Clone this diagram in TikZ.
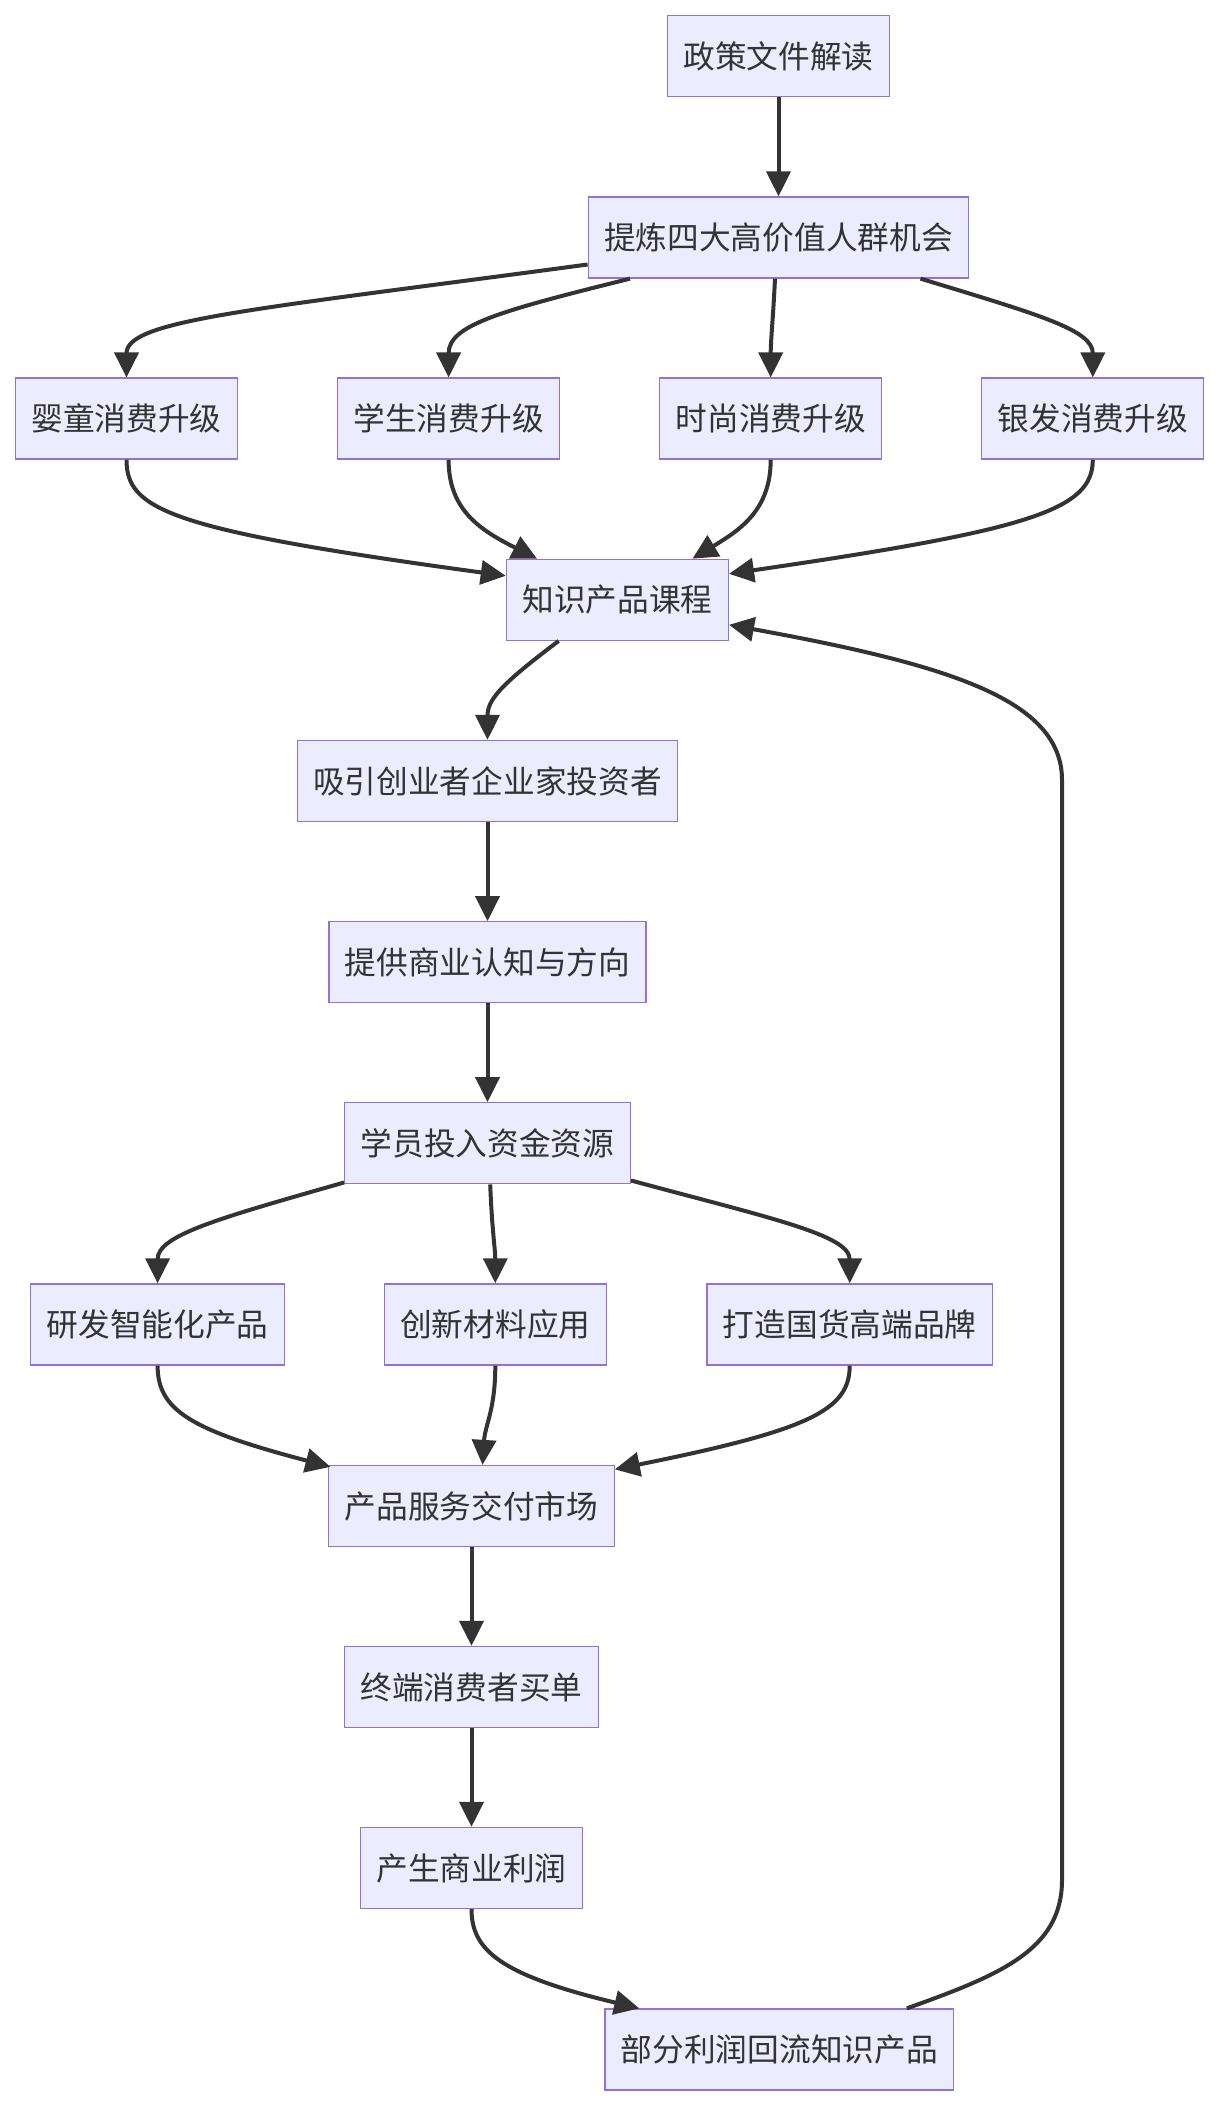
\documentclass[tikz,border=0pt]{standalone}
\usepackage{fontspec}
\newfontfamily\cjk{Noto Sans CJK SC}
\usetikzlibrary{arrows.meta}
\definecolor{nodefill}{HTML}{ECECFF}
\definecolor{nodeline}{HTML}{9370DB}
\definecolor{edgecol}{HTML}{333333}
\tikzset{
  box/.style={draw=nodeline, fill=nodefill, line width=1.3pt, rectangle,
    minimum height=81pt, inner xsep=15.9pt, inner ysep=0pt,
    text=edgecol, font=\cjk\fontsize{31.7pt}{38pt}\selectfont},
  edge/.style={draw=edgecol, line width=4pt,
    -{Triangle[length=25pt,width=24pt]}}
}
\begin{document}
\begin{tikzpicture}[x=1pt,y=-1pt]
\useasboundingbox (0,0) rectangle (1220,2108);
\node[box] (a) at (778.5,56.3) {政策文件解读};
\node[box] (b) at (778.5,237.5) {提炼四大高价值人群机会};
\node[box] (c1) at (126.5,418.6) {婴童消费升级};
\node[box] (c2) at (448.6,418.6) {学生消费升级};
\node[box] (c3) at (770.7,418.6) {时尚消费升级};
\node[box] (c4) at (1092.8,418.6) {银发消费升级};
\node[box] (d) at (617.4,599.8) {知识产品课程};
\node[box] (e) at (487.5,781) {吸引创业者企业家投资者};
\node[box] (f) at (487.5,962.3) {提供商业认知与方向};
\node[box] (g) at (487.5,1143.3) {学员投入资金资源};
\node[box] (h1) at (157.6,1324.4) {研发智能化产品};
\node[box] (h2) at (495.3,1324.4) {创新材料应用};
\node[box] (h3) at (849.7,1324.4) {打造国货高端品牌};
\node[box] (i) at (471.5,1506) {产品服务交付市场};
\node[box] (j) at (471.5,1687) {终端消费者买单};
\node[box] (k) at (471.5,1868) {产生商业利润};
\node[box] (l) at (779.3,2049.5) {部分利润回流知识产品};

\draw[edge] (a.south) -- (b.north);
\draw[edge] ([yshift=-27pt]b.west) .. controls (250,310) and (126.5,320) .. (c1.north);
\draw[edge] ([xshift=-148.5pt]b.south) .. controls (500,311) and (448.6,325) .. (c2.north);
\draw[edge] ([xshift=-3.5pt]b.south) .. controls (773,320) and (770.7,340) .. (c3.north);
\draw[edge] ([xshift=142pt]b.south) .. controls (1040,315) and (1092.8,330) .. (c4.north);

\draw[edge] (c1.south) .. controls (126.5,510) and (170,530) .. ([yshift=24pt]d.west);
\draw[edge] (c2.south) .. controls (448.6,510) and (480,530) .. ([xshift=-80.4pt]d.north);
\draw[edge] (c3.south) .. controls (770.7,510) and (740,530) .. ([xshift=75.1pt]d.north);
\draw[edge] (c4.south) .. controls (1092.8,510) and (1030,530) .. ([yshift=26pt]d.east);

\draw[edge] ([xshift=-58.7pt]d.south) .. controls (500,685) and (487.5,700) .. (e.north);
\draw[edge] (e.south) -- (f.north);
\draw[edge] (f.south) -- (g.north);

\draw[edge] ([yshift=2pt]g.south west) .. controls (220,1218) and (157.6,1235) .. (h1.north);
\draw[edge] ([xshift=2.7pt]g.south) .. controls (492,1230) and (495.3,1250) .. (h2.north);
\draw[edge] ([yshift=4pt]g.south east) .. controls (770,1218) and (849.7,1235) .. (h3.north);

\draw[edge] (h1.south) .. controls (157.6,1410) and (190,1430) .. ([xshift=2.3pt,yshift=-2pt]i.north west);
\draw[edge] (h2.south) .. controls (495.3,1410) and (485,1425) .. ([xshift=11pt]i.north);
\draw[edge] (h3.south) .. controls (849.7,1410) and (810,1430) .. ([yshift=-4.5pt]i.north east);

\draw[edge] (i.south) -- (j.north);
\draw[edge] (j.south) -- (k.north);
\draw[edge] (k.south) .. controls (471.5,1950) and (500,1975) .. ([xshift=35pt]l.north west);

\coordinate (fbB) at (1062,1880);
\coordinate (fbT) at (1062,780);
\draw[edge] ([xshift=-47.5pt]l.north east) .. controls (1000,1975) and (1062,1950) .. (fbB)
  -- (fbT) .. controls (1062,700) and (950,665) .. ([yshift=-25pt]d.east);
\end{tikzpicture}
\end{document}
